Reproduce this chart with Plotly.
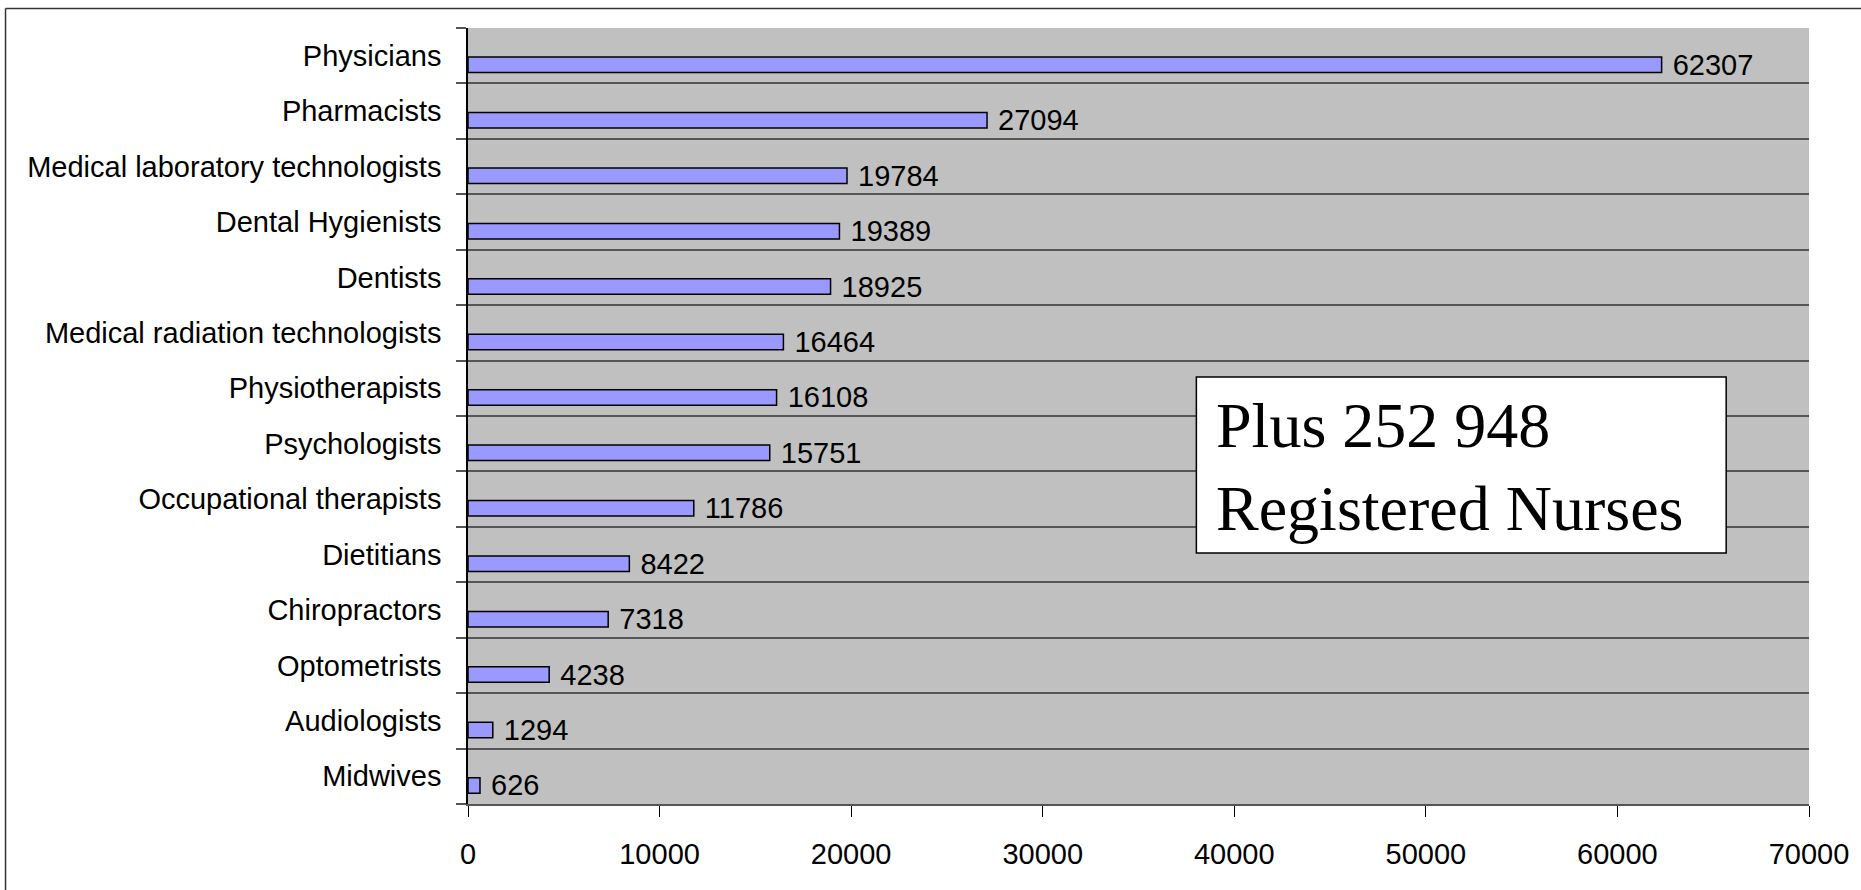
import plotly.graph_objects as go

# Health professionals by occupation (listed bottom to top)
professions = [
    "Midwives", "Audiologists", "Optometrists", "Chiropractors", "Dietitians",
    "Occupational therapists", "Psychologists", "Physiotherapists",
    "Medical radiation technologists", "Dentists", "Dental Hygienists",
    "Medical laboratory technologists", "Pharmacists", "Physicians",
]
counts = [626, 1294, 4238, 7318, 8422, 11786, 15751, 16108, 16464,
          18925, 19389, 19784, 27094, 62307]
x_ticks = [0, 10000, 20000, 30000, 40000, 50000, 60000, 70000]
note_text = "Plus 252 948<br>Registered Nurses"

W, H = 1861, 890
ML, MR, MT, MB = 468, 49, 28, 86
plot_w = W - ML - MR
plot_h = H - MT - MB

def px_to_paper_x(px):
    return (px - ML) / plot_w

def px_to_paper_y(py):
    return (H - MB - py) / plot_h

SANS = "Liberation Sans, Arial, sans-serif"

fig = go.Figure()
fig.add_trace(go.Bar(
    x=counts,
    y=professions,
    orientation="h",
    width=0.28,
    offset=-0.305,
    marker=dict(color="#9999FF", line=dict(color="#000000", width=1.5)),
    text=["\u00a0" + str(v) for v in counts],
    textposition="outside",
    constraintext="none",
    textfont=dict(family=SANS, size=29, color="#000000"),
    cliponaxis=False,
    hoverinfo="x+y",
))

fig.update_layout(
    width=W, height=H,
    margin=dict(l=ML, r=MR, t=MT, b=MB, pad=0),
    paper_bgcolor="#FFFFFF",
    plot_bgcolor="#C0C0C0",
    showlegend=False,
    uniformtext=dict(mode=False),
    font=dict(family=SANS, size=29, color="#000000"),
    xaxis=dict(
        range=[x_ticks[0], x_ticks[-1]],
        tickvals=x_ticks,
        ticktext=[str(t) for t in x_ticks],
        showgrid=False,
        zeroline=False,
        showline=True, linecolor="#555555", linewidth=2,
        ticks="outside", ticklen=11, tickcolor="#000000", tickwidth=1,
        tickfont=dict(size=29),
        ticklabelstandoff=12,
    ),
    yaxis=dict(
        type="category",
        categoryorder="array", categoryarray=professions,
        range=[-0.5, len(professions) - 0.5],
        tickson="boundaries",
        showgrid=True, gridcolor="#555555", gridwidth=1.5,
        showline=True, linecolor="#000000", linewidth=1.5,
        ticks="outside", ticklen=10, tickcolor="#555555", tickwidth=1.5,
        tickfont=dict(size=29),
        ticklabelstandoff=19,
    ),
)

# Note box for registered nurses
box_l, box_r, box_t, box_b = 1198, 1729, 377, 553
fig.add_shape(
    type="rect", xref="paper", yref="paper",
    x0=px_to_paper_x(box_l), x1=px_to_paper_x(box_r),
    y0=px_to_paper_y(box_b), y1=px_to_paper_y(box_t),
    fillcolor="#FFFFFF", line=dict(color="#000000", width=1.5),
    layer="above",
)
fig.add_annotation(
    xref="paper", yref="paper",
    x=px_to_paper_x(1216), y=px_to_paper_y((box_t + box_b) / 2 + 2),
    xanchor="left", yanchor="middle", align="left",
    text=note_text, showarrow=False,
    font=dict(family="Liberation Serif, Times New Roman, serif", size=64, color="#000000"),
)

# Outer chart frame (left and top edges)
frame_x = px_to_paper_x(4.5)
frame_y = px_to_paper_y(8.5)
fig.add_shape(type="line", xref="paper", yref="paper",
              x0=frame_x, x1=frame_x, y0=frame_y, y1=px_to_paper_y(H + 10),
              line=dict(color="#333333", width=1.5))
fig.add_shape(type="line", xref="paper", yref="paper",
              x0=frame_x, x1=px_to_paper_x(W + 10), y0=frame_y, y1=frame_y,
              line=dict(color="#333333", width=1.5))

fig.write_html("out.html")
